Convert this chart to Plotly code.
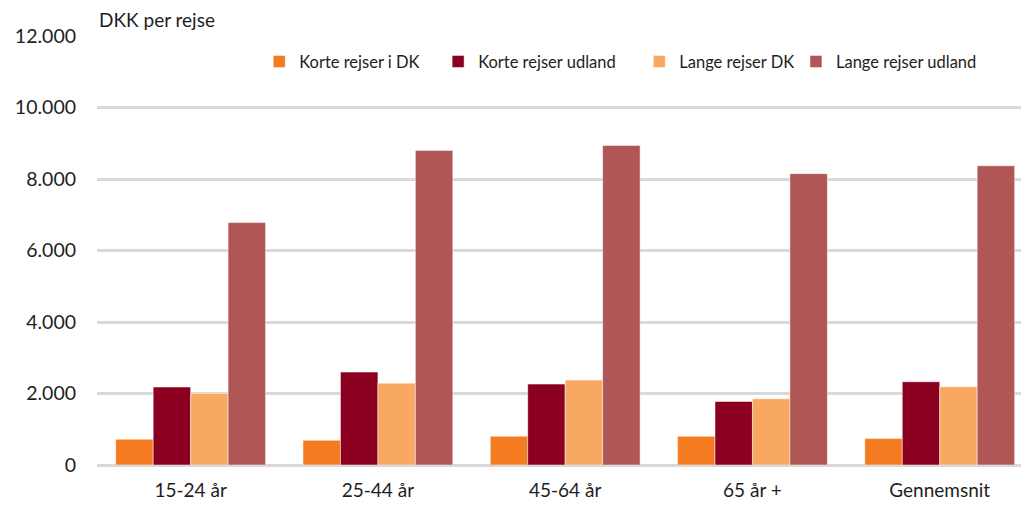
import plotly.graph_objects as go

categories = ["15-24 år", "25-44 år", "45-64 år", "65 år +", "Gennemsnit"]
series_names = ["Korte rejser i DK", "Korte rejser udland", "Lange rejser DK", "Lange rejser udland"]
korte_dk = [720, 690, 805, 805, 738]
korte_udland = [2180, 2600, 2263, 1776, 2328]
lange_dk = [2000, 2290, 2375, 1851, 2188]
lange_udland = [6780, 8800, 8940, 8150, 8370]
tick_vals = [0, 2000, 4000, 6000, 8000, 10000, 12000]
tick_text = ["0", "2.000", "4.000", "6.000", "8.000", "10.000", "12.000"]

colors = ["#F47B20", "#8B0020", "#F9A862", "#B05656"]
values = [korte_dk, korte_udland, lange_dk, lange_udland]
legend_ids = ["legend", "legend2", "legend3", "legend4"]
legend_x = [0.175, 0.368, 0.585, 0.754]

fig = go.Figure()
for name, vals, col, lid in zip(series_names, values, colors, legend_ids):
    fig.add_trace(go.Bar(
        x=categories, y=vals, name=name, legend=lid,
        marker=dict(color=col, line=dict(color="rgba(255,255,255,0.6)", width=0.8)),
    ))

font_family = "Lato, 'Open Sans', sans-serif"
legend_common = dict(orientation="h", y=0.94, xanchor="left", yanchor="middle",
                     font=dict(size=16.5), itemwidth=30, bgcolor="rgba(0,0,0,0)")
layout_legends = {}
for lid, lx in zip(legend_ids, legend_x):
    layout_legends[lid] = dict(legend_common, x=lx)

fig.update_layout(
    width=1021, height=514,
    margin=dict(l=89, r=5, t=28, b=57),
    paper_bgcolor="white", plot_bgcolor="white",
    barmode="group", bargap=0.2, bargroupgap=0,
    font=dict(family=font_family, size=19, color="#1e1e1e"),
    showlegend=True,
    xaxis=dict(showgrid=False, showline=False, ticks="", tickfont=dict(size=19),
               ticklabelstandoff=12, range=[-0.5, 4.45]),
    yaxis=dict(range=[0, 12000], tickvals=tick_vals, ticktext=tick_text,
               showgrid=True, gridcolor="#D9D9D9", gridwidth=2.5,
               zeroline=True, zerolinecolor="#D9D9D9", zerolinewidth=2.5,
               ticks="", ticklen=0, tickfont=dict(size=19.5), showline=False,
               ticklabelstandoff=20),
    annotations=[dict(text="DKK per rejse", x=0, xref="paper", y=1.0, yref="paper",
                      xanchor="left", yanchor="middle", yshift=17, showarrow=False,
                      font=dict(size=19))],
    **layout_legends,
)
fig.write_html("out.html")
